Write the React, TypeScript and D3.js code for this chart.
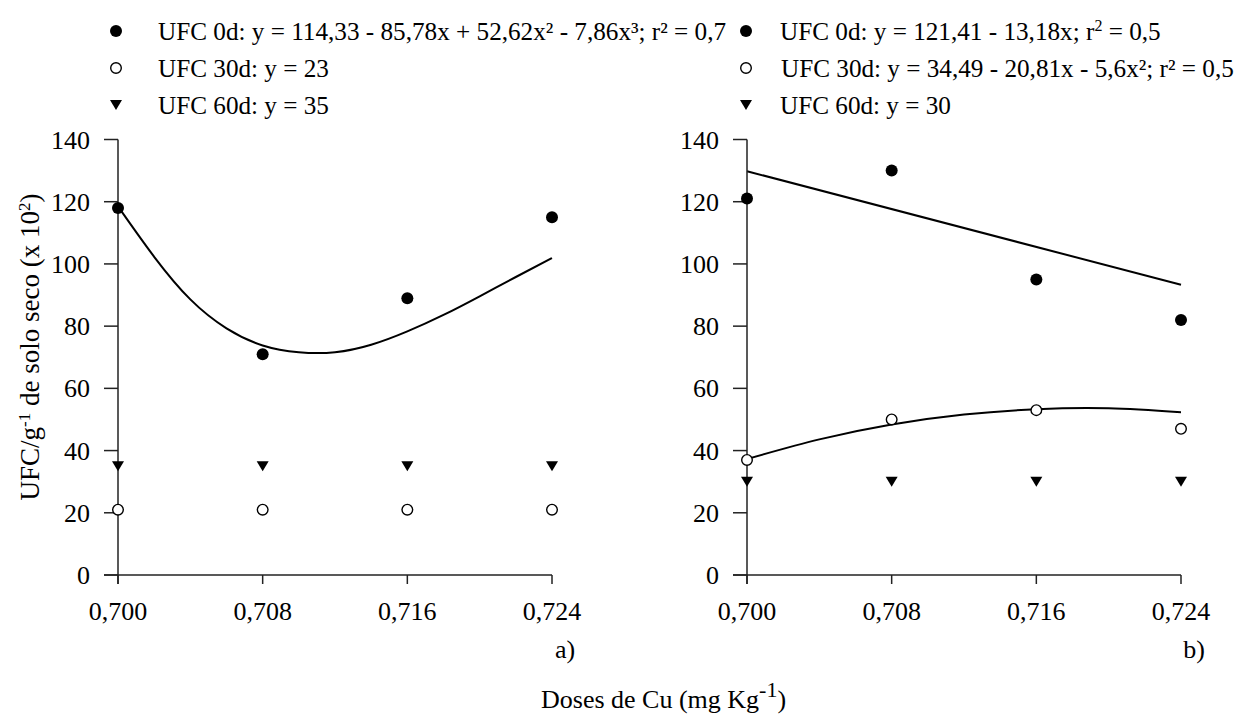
import React from "react";
import * as d3 from "d3";

const doses = [0.7, 0.708, 0.716, 0.724];
const yTicks = [0, 20, 40, 60, 80, 100, 120, 140];

// Panel a) observed values
const aUfc0 = [118, 71, 89, 115];
const aUfc30 = [21, 21, 21, 21];
const aUfc60 = [35, 35, 35, 35];
// Panel a) fitted curve
const aFitX = [0.7, 0.702, 0.704, 0.706, 0.708, 0.71, 0.712, 0.714, 0.716, 0.718, 0.72, 0.722, 0.724];
const aFitY = [118.5, 102.3, 88.6, 79.3, 73.8, 71.6, 71.6, 74.0, 78.3, 83.6, 89.6, 95.8, 101.9];

// Panel b) observed values
const bUfc0 = [121, 130, 95, 82];
const bUfc30 = [37, 50, 53, 47];
const bUfc60 = [30, 30, 30, 30];
// Panel b) fitted lines
const bFit0X = [0.7, 0.724];
const bFit0Y = [129.8, 93.3];
const bFit30X = [0.7, 0.704, 0.708, 0.712, 0.716, 0.72, 0.724];
const bFit30Y = [37.3, 43.6, 48.4, 51.6, 53.3, 53.6, 52.3];

const FONT = "'Liberation Serif', 'Times New Roman', serif";
const TICK_FS = 26;
const LEG_FS = 25.2;

const fmtX = (v: number) => d3.format(".3f")(v).replace(".", ",");

function Filled({ x, y }: { x: number; y: number }) {
  return <circle cx={x} cy={y} r={6} fill="#000" />;
}
function Open({ x, y }: { x: number; y: number }) {
  return <circle cx={x} cy={y} r={5.3} fill="#fff" stroke="#000" strokeWidth={1.4} />;
}
function Tri({ x, y }: { x: number; y: number }) {
  return <path d={`M${x - 6},${y - 5}L${x + 6},${y - 5}L${x},${y + 5}Z`} fill="#000" />;
}

function Panel({
  x0, x1, ufc0, ufc30, ufc60, fits, tag,
}: {
  x0: number; x1: number;
  ufc0: number[]; ufc30: number[]; ufc60: number[];
  fits: { xs: number[]; ys: number[]; curved: boolean }[];
  tag: string;
}) {
  const x = d3.scaleLinear().domain([0.7, 0.724]).range([x0, x1]);
  const y = d3.scaleLinear().domain([0, 140]).range([575, 139.5]);
  return (
    <g>
      {fits.map((f, i) => {
        const line = d3
          .line<number>()
          .x((_, j) => x(f.xs[j]))
          .y((v) => y(v))
          .curve(f.curved ? d3.curveNatural : d3.curveLinear);
        return <path key={i} d={line(f.ys) || ""} fill="none" stroke="#000" strokeWidth={2} />;
      })}
      <line x1={x0 - 14} x2={x1} y1={y(0)} y2={y(0)} stroke="#222" strokeWidth={1.5} />
      <line x1={x0} x2={x0} y1={y(140)} y2={y(0) + 9} stroke="#222" strokeWidth={1.5} />
      {yTicks.map((t) => (
        <g key={t}>
          <line x1={x0 - 14} x2={x0} y1={y(t)} y2={y(t)} stroke="#222" strokeWidth={1.5} />
          <text x={x0 - 28} y={y(t)} dy="0.35em" textAnchor="end" fontSize={TICK_FS} fontFamily={FONT}>
            {t}
          </text>
        </g>
      ))}
      {doses.map((d) => (
        <g key={d}>
          <line x1={x(d)} x2={x(d)} y1={y(0)} y2={y(0) + 9} stroke="#222" strokeWidth={1.5} />
          <text x={x(d)} y={y(0) + 45} textAnchor="middle" fontSize={TICK_FS} fontFamily={FONT}>
            {fmtX(d)}
          </text>
        </g>
      ))}
      <text x={x1 + 13} y={658} textAnchor="middle" fontSize={TICK_FS} fontFamily={FONT}>
        {tag}
      </text>
      {ufc60.map((v, i) => <Tri key={"t" + i} x={x(doses[i])} y={y(v)} />)}
      {ufc30.map((v, i) => <Open key={"o" + i} x={x(doses[i])} y={y(v)} />)}
      {ufc0.map((v, i) => <Filled key={"f" + i} x={x(doses[i])} y={y(v)} />)}
    </g>
  );
}

export default function App() {
  const lx = 116;
  const rx = 746;
  const rows = [31, 68, 105];
  const fs = LEG_FS;
  return (
    <svg
      width={1241}
      height={716}
      style={{ position: "absolute", left: 0, top: 0, background: "#fff" }}
      fontFamily={FONT}
    >
      <rect width={1241} height={716} fill="#fff" />
      <Filled x={lx} y={rows[0]} />
      <Open x={lx} y={rows[1]} />
      <Tri x={lx} y={rows[2]} />
      <text x={158} y={rows[0]} dy="0.35em" fontSize={fs}>
        UFC 0d: y = 114,33 - 85,78x + 52,62x² - 7,86x³; r² = 0,7
      </text>
      <text x={158} y={rows[1]} dy="0.35em" fontSize={fs}>UFC 30d: y = 23</text>
      <text x={158} y={rows[2]} dy="0.35em" fontSize={fs}>UFC 60d: y = 35</text>
      <Filled x={rx} y={rows[0]} />
      <Open x={rx} y={rows[1]} />
      <Tri x={rx} y={rows[2]} />
      <text x={780} y={rows[0]} dy="0.35em" fontSize={fs}>
        UFC 0d: y = 121,41 - 13,18x; r
        <tspan dy="-9" fontSize={16}>2</tspan>
        <tspan dy="9"> = 0,5</tspan>
      </text>
      <text x={781} y={rows[1]} dy="0.35em" fontSize={fs}>
        UFC 30d: y = 34,49 - 20,81x - 5,6x²; r² = 0,5
      </text>
      <text x={780} y={rows[2]} dy="0.35em" fontSize={fs}>UFC 60d: y = 30</text>

      <Panel
        x0={118}
        x1={552}
        ufc0={aUfc0}
        ufc30={aUfc30}
        ufc60={aUfc60}
        fits={[{ xs: aFitX, ys: aFitY, curved: true }]}
        tag="a)"
      />
      <Panel
        x0={747}
        x1={1181}
        ufc0={bUfc0}
        ufc30={bUfc30}
        ufc60={bUfc60}
        fits={[
          { xs: bFit0X, ys: bFit0Y, curved: false },
          { xs: bFit30X, ys: bFit30Y, curved: true },
        ]}
        tag="b)"
      />

      <text transform="translate(39,347) rotate(-90)" textAnchor="middle" fontSize={27}>
        UFC/g
        <tspan dy="-9" fontSize={17}>-1</tspan>
        <tspan dy="9"> de solo seco (x 10</tspan>
        <tspan dy="-9" fontSize={17}>2</tspan>
        <tspan dy="9">)</tspan>
      </text>
      <text x={541} y={708} textAnchor="start" fontSize={26}>
        Doses de Cu (mg Kg
        <tspan dy="-11" fontSize={22}>-1</tspan>
        <tspan dy="11">)</tspan>
      </text>
    </svg>
  );
}
